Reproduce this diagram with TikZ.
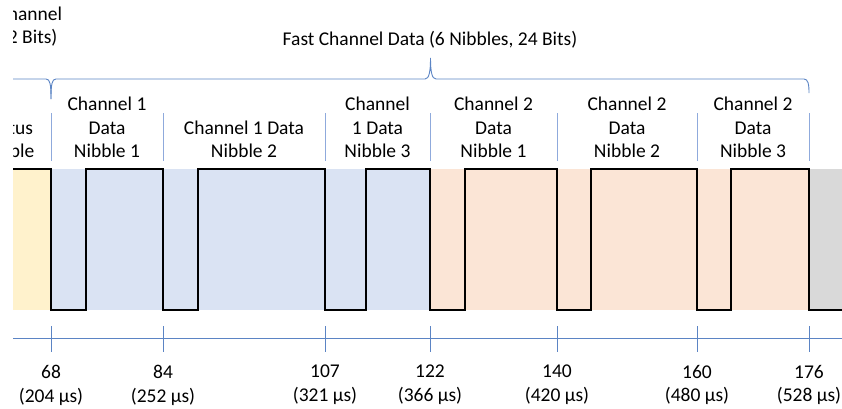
\documentclass[tikz,border=0pt]{standalone}
\usepackage{fontspec}
\setmainfont{Carlito}

\definecolor{lineblue}{RGB}{91,132,196}
\definecolor{sepblue}{RGB}{143,170,220}
\definecolor{statfill}{HTML}{FFF2CC}
\definecolor{chonefill}{HTML}{DAE3F3}
\definecolor{chtwofill}{HTML}{FBE5D6}
\definecolor{crcfill}{HTML}{D9D9D9}

\begin{document}
\begin{tikzpicture}[x=1pt,y=-1pt,
  lbl/.style={align=center, inner sep=0pt, anchor=south,
              font=\fontsize{19.5}{23.5}\selectfont},
  ticklbl/.style={align=center, inner sep=0pt, anchor=north,
              font=\fontsize{19.5}{23.5}\selectfont},
  sepline/.style={draw=sepblue, line width=0.8pt},
  bracket/.style={draw=lineblue, line width=0.9pt},
  axisline/.style={draw=lineblue, line width=0.9pt},
  wave/.style={draw=black, line width=1.7pt, line join=miter},
]
\useasboundingbox (0,0) rectangle (842,408);
\clip (13,0) rectangle (842,408);

% coloured nibble bands
\fill[statfill]  (13,169)  rectangle (51,310);
\fill[chonefill] (51,169)  rectangle (430,310);
\fill[chtwofill] (430,169) rectangle (809,310);
\fill[crcfill]   (809,169) rectangle (842,310);

% SENT waveform
\draw[wave] (13,169) -| (51,310) -| (86,169) -| (163,310) -| (198,169)
  -| (325,310) -| (366,169) -| (430,310) -| (465,169) -| (557,310)
  -| (591,169) -| (697,310) -| (731,169) -| (809,310) -- (842,310);

% separators between nibble labels
\foreach \x in {51,163,325,430,557,697,809}
  \draw[sepline] (\x,113) -- (\x,161);

% nibble labels
\node[lbl] (status) at (8.5,158)   {Status\\Nibble};
\node[lbl] (conen1) at (107,158)   {Channel 1\\Data\\Nibble 1};
\node[lbl] (conen2) at (244,158)   {Channel 1 Data\\Nibble 2};
\node[lbl] (conen3) at (377.5,158) {Channel\\1 Data\\Nibble 3};
\node[lbl] (ctwon1) at (493.5,158) {Channel 2\\Data\\Nibble 1};
\node[lbl] (ctwon2) at (627,158)   {Channel 2\\Data\\Nibble 2};
\node[lbl] (ctwon3) at (753,158)   {Channel 2\\Data\\Nibble 3};

% braces
\draw[bracket] (13,79) -- (46,79) .. controls (50,79) and (51,84) .. (51,99);
\draw[bracket] (51,99) .. controls (51,84) and (52,79) .. (56,79) -- (425,79)
  .. controls (429,79) and (430.5,72) .. (430.5,58)
  .. controls (430.5,72) and (432,79) .. (436,79) -- (804,79)
  .. controls (808,79) and (809,84) .. (809,93);

\node[lbl] (slow) at (29.7,46.5) {Channel\\(2 Bits)};
\node[inner sep=0pt, anchor=base, font=\fontsize{19.5}{23.5}\selectfont]
  (fast) at (430,45) {Fast Channel Data (6 Nibbles, 24 Bits)};

% time axis
\draw[axisline] (13,338) -- (842,338);
\foreach \x/\n/\us in {51/68/204, 163/84/252, 325/107/321, 430/122/366,
                       557/140/420, 697/160/480, 809/176/528} {
  \draw[axisline] (\x,326) -- (\x,352);
  \node[ticklbl] (tick\n) at (\x,365) {\n\\(\us~µs)};
}
\end{tikzpicture}
\end{document}
